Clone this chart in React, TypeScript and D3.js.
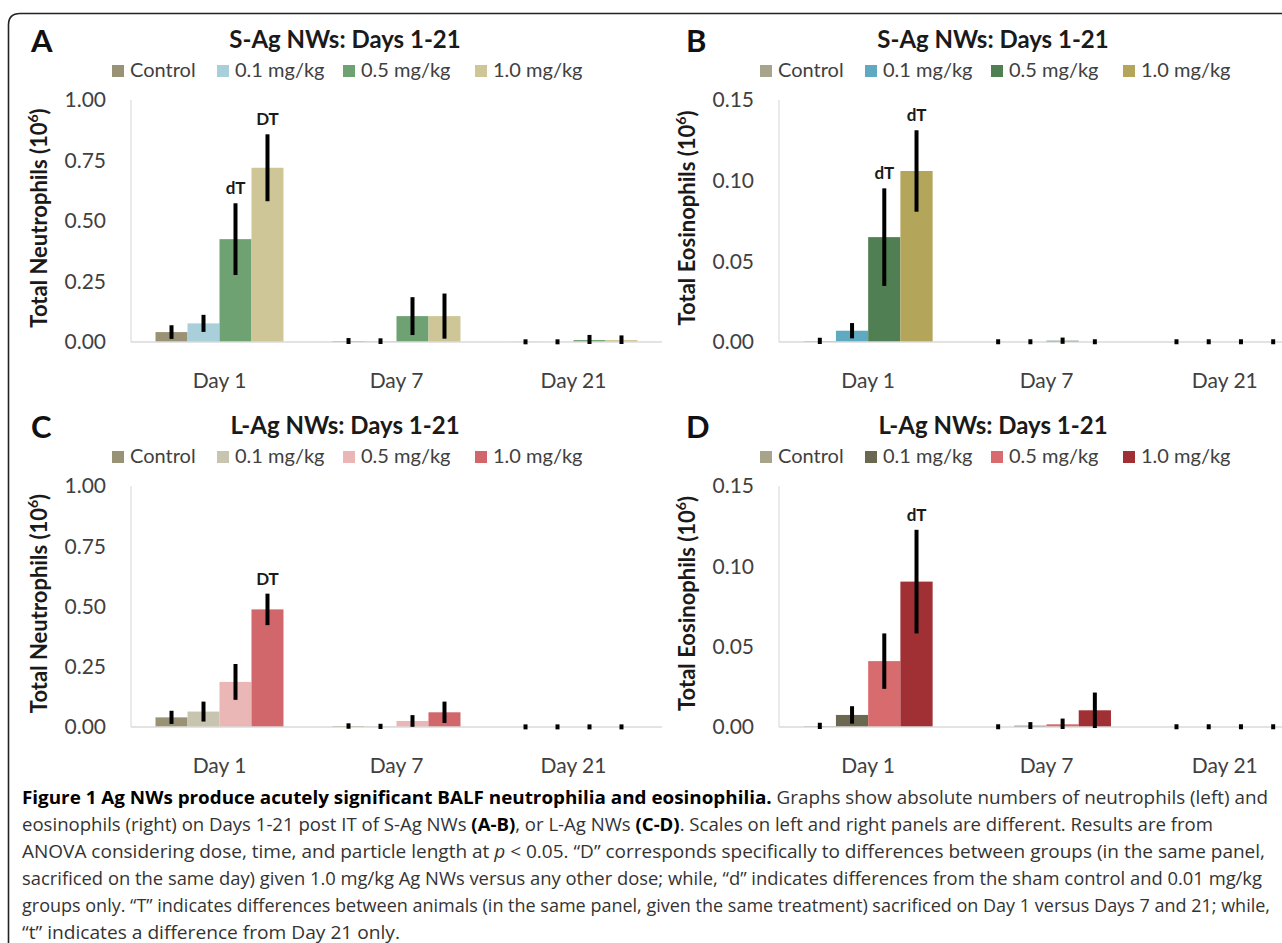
import React from "react";
import * as d3 from "d3";

const days = ["Day 1", "Day 7", "Day 21"];
const doses = ["Control", "0.1 mg/kg", "0.5 mg/kg", "1.0 mg/kg"];

// values, [dose][day], units of 10^6 cells
const neutroSMean = [
  [0.041, 0.004, 0.0005],
  [0.077, 0.003, 0.0005],
  [0.425, 0.107, 0.008],
  [0.72, 0.107, 0.008],
];
const neutroSErr = [
  [0.02, 0.004, 0.001],
  [0.027, 0.004, 0.001],
  [0.14, 0.07, 0.013],
  [0.13, 0.085, 0.011],
];
const eosinoSMean = [
  [0.0006, 0, 0],
  [0.007, 0, 0],
  [0.065, 0.0008, 0],
  [0.106, 0, 0],
];
const eosinoSErr = [
  [0.0008, 0.0003, 0.0003],
  [0.0035, 0.0003, 0.0003],
  [0.029, 0.0007, 0.0003],
  [0.024, 0.0003, 0.0003],
];
const neutroLMean = [
  [0.04, 0.004, 0],
  [0.064, 0.002, 0],
  [0.187, 0.025, 0],
  [0.488, 0.061, 0],
];
const neutroLErr = [
  [0.019, 0.003, 0.001],
  [0.033, 0.003, 0.001],
  [0.066, 0.016, 0.001],
  [0.057, 0.036, 0.001],
];
const eosinoLMean = [
  [0.0006, 0, 0],
  [0.0075, 0.0008, 0],
  [0.041, 0.0017, 0],
  [0.0905, 0.0104, 0],
];
const eosinoLErr = [
  [0.0008, 0.0003, 0.0003],
  [0.0042, 0.001, 0.0003],
  [0.016, 0.0023, 0.0003],
  [0.031, 0.0098, 0.0003],
];

const neutroTicks = [0, 0.25, 0.5, 0.75, 1.0];
const eosinoTicks = [0, 0.05, 0.1, 0.15];

const colorsA = ["#9a9274", "#a9cfda", "#6fa273", "#cec696"];
const colorsB = ["#a8a38b", "#5faac1", "#4f7f52", "#b3a65a"];
const colorsC = ["#9a9274", "#c7c4b0", "#ebb6b6", "#d1666b"];
const colorsD = ["#a8a38b", "#6b6851", "#d76b6e", "#a13034"];

// significance labels: [dose, day, text]
const marksA: [number, number, string][] = [[2, 0, "dT"], [3, 0, "DT"]];
const marksB: [number, number, string][] = [[2, 0, "dT"], [3, 0, "dT"]];
const marksC: [number, number, string][] = [[3, 0, "DT"]];
const marksD: [number, number, string][] = [[3, 0, "dT"]];

const FONT = "Lato, 'Open Sans', sans-serif";

type PanelProps = {
  letter: string;
  title: string;
  yLabel: string;
  mean: number[][];
  err: number[][];
  ticks: number[];
  colors: string[];
  marks: [number, number, string][];
  x0: number;
  x1: number;
  top: number;
  bottom: number;
  letterX: number;
};

function Panel(p: PanelProps) {
  const yMax = p.ticks[p.ticks.length - 1];
  const y = d3.scaleLinear().domain([0, yMax]).range([p.bottom, p.top]);
  const x = d3
    .scaleBand<string>()
    .domain(days)
    .range([p.x0, p.x1])
    .paddingInner(0.277)
    .paddingOuter(0.1385);
  const xs = d3.scaleBand<string>().domain(doses).range([0, x.bandwidth()]);
  const fmt = d3.format(".2f");
  const cx = p.x0 + 214;
  const legendOffsets = [0, 105, 231, 363];
  const legendX = cx - 233;

  return (
    <g>
      <text x={p.letterX} y={p.top - 48} fontFamily={FONT} fontWeight={700} fontSize={31} fill="#111">
        {p.letter}
      </text>
      <text x={cx} y={p.top - 52} textAnchor="middle" fontFamily={FONT} fontWeight={700} fontSize={24} fill="#1a1a1a">
        {p.title}
      </text>
      {doses.map((d, i) => (
        <g key={d} transform={`translate(${legendX + legendOffsets[i]},${p.top - 35})`}>
          <rect x={0} y={0} width={12} height={12} fill={p.colors[i]} />
          <text x={18} y={12} fontFamily={FONT} fontSize={20} fill="#404040">
            {d}
          </text>
        </g>
      ))}
      {/* axes */}
      <line x1={p.x0} x2={p.x0} y1={p.top} y2={p.bottom} stroke="#e3e3e3" strokeWidth={1.5} />
      {p.ticks.map((t) => (
        <text
          key={t}
          x={p.x0 - 25}
          y={y(t)}
          dy="0.35em"
          textAnchor="end"
          fontFamily={FONT}
          fontSize={21}
          fill="#404040"
        >
          {fmt(t)}
        </text>
      ))}
      <text
        transform={`translate(${p.x0 - 84},${(p.top + p.bottom) / 2 - 3}) rotate(-90)`}
        textAnchor="middle"
        fontFamily={FONT}
        fontWeight={700}
        fontSize={22}
        fill="#1a1a1a"
      >
        {p.yLabel} (10<tspan fontSize={14} dy={-9}>6</tspan>
        <tspan dy={9}>)</tspan>
      </text>
      {days.map((day) => (
        <text
          key={day}
          x={(x(day) as number) + x.bandwidth() / 2}
          y={p.bottom + 46}
          textAnchor="middle"
          fontFamily={FONT}
          fontSize={21}
          fill="#404040"
        >
          {day}
        </text>
      ))}
      {/* bars */}
      {doses.map((dose, i) =>
        days.map((day, j) => {
          const v = p.mean[i][j];
          const bx = (x(day) as number) + (xs(dose) as number);
          return (
            <rect
              key={dose + day}
              x={bx}
              y={y(v)}
              width={xs.bandwidth()}
              height={p.bottom - y(v)}
              fill={p.colors[i]}
            />
          );
        })
      )}
      <line x1={p.x0} x2={p.x1} y1={p.bottom} y2={p.bottom} stroke="#dadada" strokeWidth={1.5} />
      {/* error bars */}
      {doses.map((dose, i) =>
        days.map((day, j) => {
          const v = p.mean[i][j];
          const e = p.err[i][j];
          const bx = (x(day) as number) + (xs(dose) as number) + xs.bandwidth() / 2;
          let yT = y(v + e);
          let yB = y(Math.max(0, v - e));
          if (yB - yT < 1) {
            const m = (yB + yT) / 2;
            yT = m - 0.5;
            yB = m + 0.5;
          }
          return (
            <line
              key={"e" + dose + day}
              x1={bx}
              x2={bx}
              y1={yT}
              y2={yB}
              stroke="#000"
              strokeWidth={4}
              strokeLinecap="square"
            />
          );
        })
      )}
      {p.marks.map(([i, j, t]) => (
        <text
          key={t + i + j}
          x={(x(days[j]) as number) + (xs(doses[i]) as number) + xs.bandwidth() / 2}
          y={y(p.mean[i][j] + p.err[i][j]) - 11}
          textAnchor="middle"
          fontFamily={FONT}
          fontWeight={700}
          fontSize={17}
          fill="#1a1a1a"
        >
          {t}
        </text>
      ))}
    </g>
  );
}

const CAP_FONT = "'Open Sans', 'Noto Sans', sans-serif";

function Caption() {
  const x0 = 22;
  const rows: { y: number; len: number; parts: [string, string][] }[] = [
    {
      y: 804,
      len: 1246,
      parts: [
        ["b", "Figure 1 Ag NWs produce acutely significant BALF neutrophilia and eosinophilia."],
        ["r", " Graphs show absolute numbers of neutrophils (left) and"],
      ],
    },
    {
      y: 831,
      len: 1191,
      parts: [
        ["r", "eosinophils (right) on Days 1-21 post IT of S-Ag NWs "],
        ["b", "(A-B)"],
        ["r", ", or L-Ag NWs "],
        ["b", "(C-D)"],
        ["r", ". Scales on left and right panels are different. Results are from"],
      ],
    },
    {
      y: 858,
      len: 1243,
      parts: [
        ["r", "ANOVA considering dose, time, and particle length at "],
        ["i", "p"],
        ["r", " < 0.05. \u201CD\u201D corresponds specifically to differences between groups (in the same panel,"],
      ],
    },
    {
      y: 885,
      len: 1240,
      parts: [
        [
          "r",
          "sacrificed on the same day) given 1.0 mg/kg Ag NWs versus any other dose; while, \u201Cd\u201D indicates differences from the sham control and 0.01 mg/kg",
        ],
      ],
    },
    {
      y: 912,
      len: 1248,
      parts: [
        [
          "r",
          "groups only. \u201CT\u201D indicates differences between animals (in the same panel, given the same treatment) sacrificed on Day 1 versus Days 7 and 21; while,",
        ],
      ],
    },
    {
      y: 939,
      len: 378,
      parts: [["r", "\u201Ct\u201D indicates a difference from Day 21 only."]],
    },
  ];
  return (
    <g>
      {rows.map((r) => (
        <text
          key={r.y}
          x={x0}
          y={r.y}
          textLength={r.len}
          lengthAdjust="spacingAndGlyphs"
          fontFamily={CAP_FONT}
          fontSize={17.5}
          fill="#333"
        >
          {r.parts.map(([k, s], i) => (
            <tspan
              key={i}
              fontWeight={k === "b" ? 700 : 400}
              fontStyle={k === "i" ? "italic" : "normal"}
              fill={k === "b" ? "#000" : "#333"}
            >
              {s}
            </tspan>
          ))}
        </text>
      ))}
    </g>
  );
}

export default function App() {
  return (
    <div style={{ position: "absolute", left: 0, top: 0 }}>
      <svg width={1282} height={943} style={{ display: "block", background: "#fff" }}>
        <path d="M8.5,943 V25 Q8.5,13.5 20,13.5 H1282" fill="none" stroke="#222" strokeWidth={1.6} />
        <Panel
          letter="A"
          title="S-Ag NWs: Days 1-21"
          yLabel="Total Neutrophils"
          mean={neutroSMean}
          err={neutroSErr}
          ticks={neutroTicks}
          colors={colorsA}
          marks={marksA}
          x0={131}
          x1={662}
          top={100}
          bottom={342}
          letterX={31}
        />
        <Panel
          letter="B"
          title="S-Ag NWs: Days 1-21"
          yLabel="Total Eosinophils"
          mean={eosinoSMean}
          err={eosinoSErr}
          ticks={eosinoTicks}
          colors={colorsB}
          marks={marksB}
          x0={779}
          x1={1314}
          top={100}
          bottom={342}
          letterX={686}
        />
        <Panel
          letter="C"
          title="L-Ag NWs: Days 1-21"
          yLabel="Total Neutrophils"
          mean={neutroLMean}
          err={neutroLErr}
          ticks={neutroTicks}
          colors={colorsC}
          marks={marksC}
          x0={131}
          x1={662}
          top={486}
          bottom={727}
          letterX={31}
        />
        <Panel
          letter="D"
          title="L-Ag NWs: Days 1-21"
          yLabel="Total Eosinophils"
          mean={eosinoLMean}
          err={eosinoLErr}
          ticks={eosinoTicks}
          colors={colorsD}
          marks={marksD}
          x0={779}
          x1={1314}
          top={486}
          bottom={727}
          letterX={686}
        />
        <Caption />
      </svg>
    </div>
  );
}
